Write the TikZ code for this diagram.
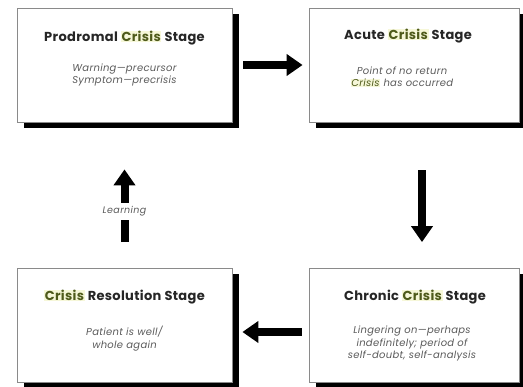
\documentclass[tikz,border=0pt]{standalone}
\usepackage{fontspec}
\setmainfont{Poppins}
\usetikzlibrary{arrows.meta,shadows}
\definecolor{olivetxt}{HTML}{4E5A1A}
\definecolor{hlyellow}{HTML}{F6F7D8}
\definecolor{bodygray}{HTML}{5A5A5A}
\definecolor{boxline}{HTML}{8A8A8A}
\newcommand{\crisisword}[1]{{\setlength{\fboxsep}{0.6pt}\colorbox{hlyellow}{\textcolor{olivetxt}{#1}}}}
\tikzset{
 stagebox/.style={draw=boxline, line width=0.8pt, fill=white, minimum width=215pt, minimum height=114pt, inner sep=0pt,
   drop shadow={shadow xshift=7pt, shadow yshift=-6pt, fill=black, opacity=1}},
 titletext/.style={font=\bfseries\fontsize{13}{15}\selectfont\addfontfeatures{LetterSpace=2.5}, text=black!85, inner sep=0pt},
 bodytext/.style={font=\itshape\fontsize{10}{12.5}\selectfont\addfontfeatures{LetterSpace=3}, text=bodygray, align=center, inner sep=0pt},
 bigarrow/.style={line width=8pt, -{Triangle[length=16pt,width=21pt]}},
 learnlabel/.style={fill=white, font=\itshape\fontsize{9.5}{10}\selectfont\addfontfeatures{LetterSpace=4}, text=bodygray, inner xsep=1pt, inner ysep=4pt, text height=6.5pt, text depth=2.5pt},
}
\begin{document}
\begin{tikzpicture}[x=1pt,y=-1pt]
\clip (0,0) rectangle (523,387);
\fill[white] (0,0) rectangle (523,387);
% boxes
\node[stagebox] (tl) at (124.5,65) {};
\node[stagebox, minimum width=210pt] (tr) at (414,65) {};
\node[stagebox] (bl) at (124.5,325.5) {};
\node[stagebox, minimum width=210pt] (br) at (414,325.5) {};
% titles
\node[titletext] (tlT) at (124.5,38) {Prodromal \crisisword{Crisis} Stage};
\node[titletext] (trT) at (408,36) {Acute \crisisword{Crisis} Stage};
\node[titletext] (blT) at (124.5,297) {\crisisword{Crisis} Resolution Stage};
\node[titletext] (brT) at (415,297) {Chronic \crisisword{Crisis} Stage};
% bodies
\node[bodytext] (tlB) at (124.5,75) {Warning---precursor\\Symptom---precrisis};
\node[bodytext] (trB) at (402,77) {Point of no return\\\crisisword{Crisis} has occurred};
\node[bodytext] (blB) at (124.5,338.5) {Patient is well/\\whole again};
\node[bodytext] (brB) at (412,343.5) {Lingering on---perhaps\\indefinitely; period of\\self-doubt, self-analysis};
% arrows
\draw[bigarrow] ([xshift=11pt]tl.east) -- ([xshift=-6pt]tr.west);
\draw[bigarrow] ([xshift=8pt,yshift=-48pt]tr.south) -- ([xshift=8pt,yshift=26pt]br.north);
\draw[bigarrow] ([xshift=-7pt,yshift=-6.5pt]br.west) -- ([xshift=10pt,yshift=-6.5pt]bl.east);
\draw[bigarrow] ([yshift=26pt]bl.north) -- node[learnlabel, pos=0.418] (learn) {Learning} ([yshift=-47pt]tl.south);
\end{tikzpicture}
\end{document}
